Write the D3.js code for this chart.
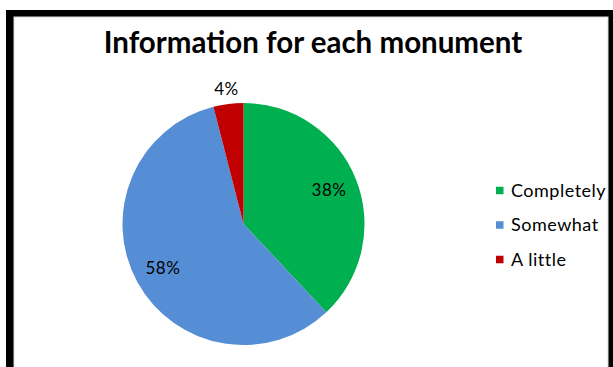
<!DOCTYPE html>
<html>
<head>
<meta charset="utf-8">
<script src="https://cdn.jsdelivr.net/npm/d3@7"></script>
<style>
  html, body { margin: 0; padding: 0; background: #fff; }
  svg { display: block; }
</style>
</head>
<body>
<svg id="chart" width="613" height="367"></svg>
<script>
// Survey answers: how much information is given for each monument
const categories = ["Completely", "Somewhat", "A little"];
const values = [38, 58, 4];
const colors = ["#00B050", "#558ED5", "#C00000"];
const titleText = "Information for each monument";

const svg = d3.select("#chart");
const W = 613, H = 367;

// frame
svg.append("rect").attr("x", 0).attr("y", 0).attr("width", W).attr("height", H).attr("fill", "#fff");
svg.append("rect").attr("x", 6).attr("y", 10).attr("width", W).attr("height", H)
  .attr("fill", "#000");
svg.append("rect").attr("x", 14).attr("y", 17).attr("width", 594).attr("height", H)
  .attr("fill", "#fff").attr("stroke", "#d9d9d9").attr("stroke-width", 1);

// title
svg.append("text")
  .attr("x", 313).attr("y", 53)
  .attr("text-anchor", "middle")
  .attr("font-family", "Lato, 'Open Sans', sans-serif")
  .attr("font-weight", "bold")
  .attr("font-size", 29.5)
  .attr("fill", "#000")
  .text(titleText);

// pie
const cx = 243.5, cy = 224, R = 121;
const data = categories.map((c, i) => ({ name: c, value: values[i], color: colors[i] }));
const pie = d3.pie().value(d => d.value).sort(null);
const arcs = pie(data);
const arc = d3.arc().innerRadius(0).outerRadius(R);
const g = svg.append("g").attr("transform", `translate(${cx},${cy})`);

g.selectAll("path.slice").data(arcs).join("path")
  .attr("class", "slice")
  .attr("d", arc)
  .attr("fill", d => d.data.color);

// percentage labels: inside for large slices, just outside for the small one
const inner = d3.arc().innerRadius(R * 0.76).outerRadius(R * 0.76);
const outer = d3.arc().innerRadius(R + 15).outerRadius(R + 15);
g.selectAll("text.pct").data(arcs).join("text")
  .attr("class", "pct")
  .attr("transform", d => `translate(${(d.data.value < 10 ? outer : inner).centroid(d)})`)
  .attr("text-anchor", "middle")
  .attr("dy", "0.35em")
  .attr("font-family", "Lato, 'Open Sans', sans-serif")
  .attr("font-size", 17)
  .attr("letter-spacing", 0.5)
  .attr("fill", "#000")
  .text(d => d.data.value + "%");

// legend
const legendY = d3.scalePoint().domain(categories).range([190.5, 259.5]);
const lg = svg.append("g");
const item = lg.selectAll("g").data(data).join("g")
  .attr("transform", d => `translate(496,${legendY(d.name)})`);
item.append("rect").attr("x", 0).attr("y", -3.75).attr("width", 7.5).attr("height", 7.5)
  .attr("fill", d => d.color);
item.append("text")
  .attr("x", 15).attr("y", 0).attr("dy", "0.35em")
  .attr("font-family", "Lato, 'Open Sans', sans-serif")
  .attr("font-size", 18)
  .attr("letter-spacing", 0.5)
  .attr("fill", "#000")
  .text(d => d.name);
</script>
</body>
</html>
